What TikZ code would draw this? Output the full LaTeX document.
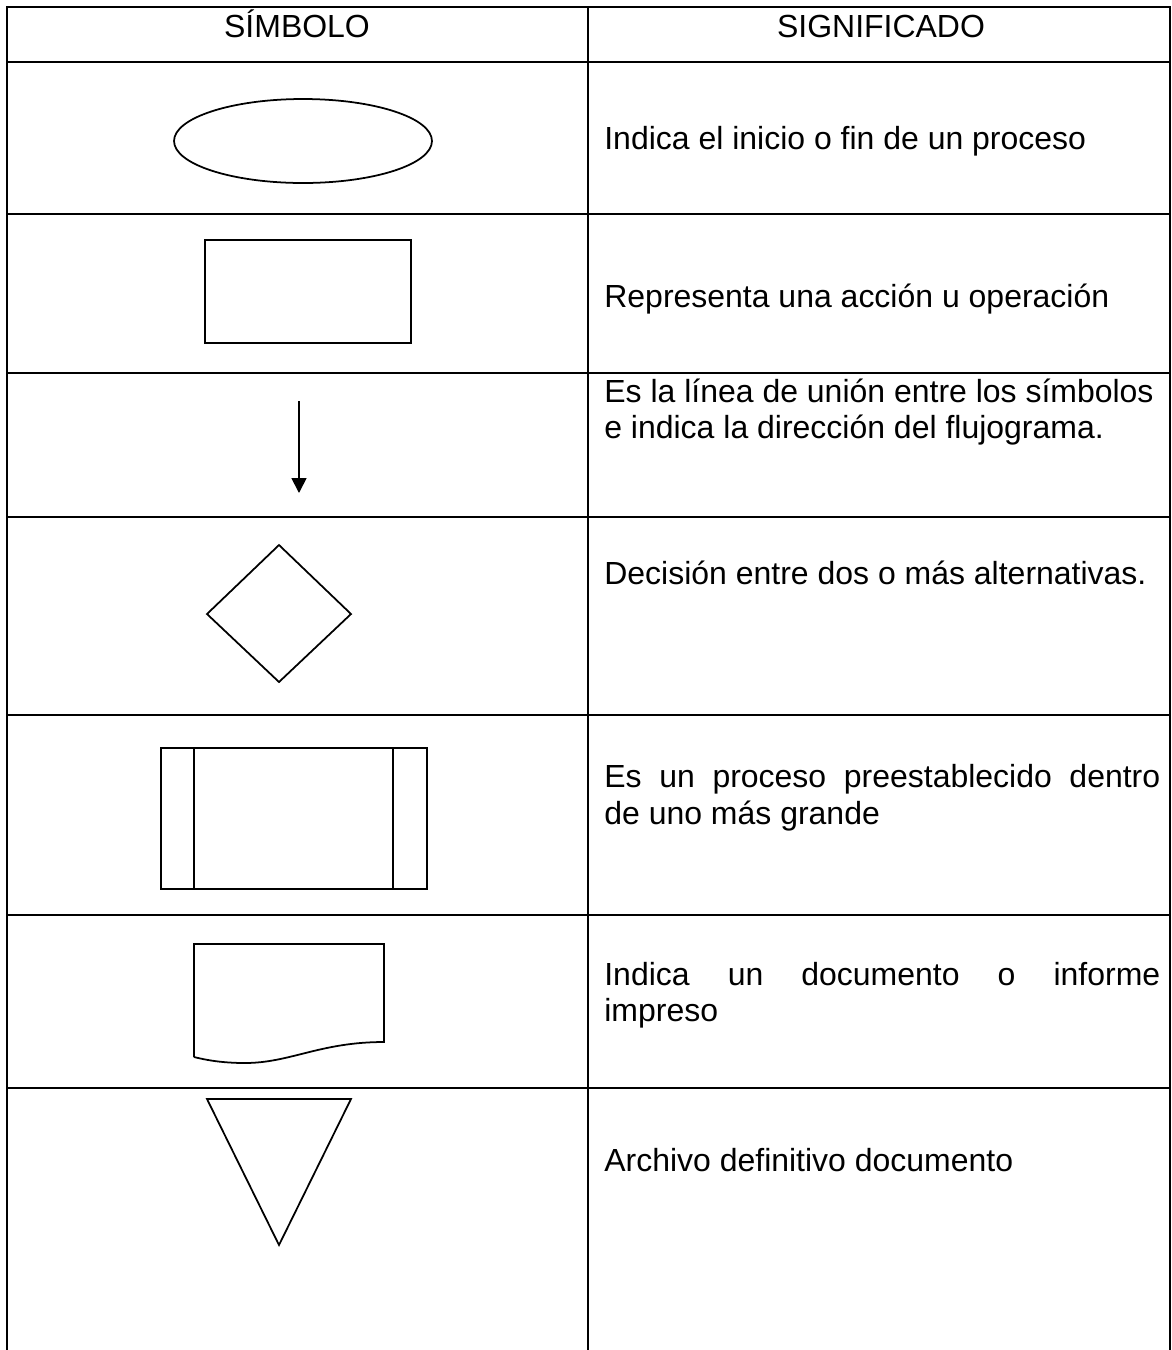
\documentclass[tikz,border=0pt]{standalone}
\usepackage{fontspec}
\setmainfont{Liberation Sans}
\usetikzlibrary{positioning,arrows.meta}

\tikzset{
  celltext/.style={anchor=base west,inner sep=0pt,font=\fontsize{18.2}{21}\selectfont},
  headtext/.style={anchor=base,inner sep=0pt,font=\fontsize{18.2}{21}\selectfont},
  gridline/.style={line width=1.1pt,black},
  symline/.style={line width=1pt,black},
}

\begin{document}
\begin{tikzpicture}[x=0.02cm,y=-0.02cm]
            \useasboundingbox (0,0) rectangle (1171,1350);
            % Table
            \draw[gridline] (7,1350) -- (7,7) -- (1170,7) -- (1170,1350);
            \draw[gridline] (588,7) -- (588,1350);
            \foreach \yy in {62,214,373,517,715,915,1088}
                \draw[gridline] (7,\yy) -- (1170,\yy);
            % Header
            \node[headtext] (simbolo) at (297,37) {SÍMBOLO};
            \node[headtext] (significado) at (881,37) {SIGNIFICADO};
            % Symbols
            \draw[symline] (303,141) ellipse [x radius=2.58cm,y radius=0.84cm]; % start / end
            \draw[symline] (205,240) rectangle (411,343); % action
            \coordinate (flowtop) at (299,401);
            \coordinate (flowend) at (299,493);
            \draw[symline,-{Triangle[length=0.3cm,width=0.3cm]}] (flowtop) -- (flowend); % flow line
            \draw[symline] (279,545) -- (351,614) -- (279,682) -- (207,614) -- cycle; % decision
            \draw[symline] (161,748) rectangle (427,889); % predefined process
            \draw[symline] (194,748) -- (194,889);
            \draw[symline] (393,748) -- (393,889);
            \draw[symline] (194,1057) -- (194,944) -- (384,944) -- (384,1042)
                .. controls (320,1042) and (290,1063) .. (245,1063)
                .. controls (222,1063) and (206,1060) .. (194,1057); % document
            \draw[symline] (207,1099) -- (351,1099) -- (279,1245) -- cycle; % archive
            % Meanings
            \node[celltext] (inicio) at (604,149) {Indica el inicio o fin de un proceso};
            \node[celltext] (accion) at (604,307) {Representa una acción u operación};
            \node[celltext] (lineaA) at (604,402) {Es la línea de unión entre los símbolos};
            \node[celltext] (lineaB) at (604,438) {e indica la dirección del flujograma.};
            \node[celltext] (decision) at (604,584) {Decisión entre dos o más alternativas.};
            \node[celltext] (procesoA) at (604,787) {\makebox[11.12cm][s]{Es un proceso preestablecido dentro}};
            \node[celltext] (procesoB) at (604,824) {de uno más grande};
            \node[celltext] (docA) at (604,985) {\makebox[11.12cm][s]{Indica un documento o informe}};
            \node[celltext] (docB) at (604,1021) {impreso};
            \node[celltext] (archivo) at (604,1171) {Archivo definitivo documento};
\end{tikzpicture}
\end{document}
